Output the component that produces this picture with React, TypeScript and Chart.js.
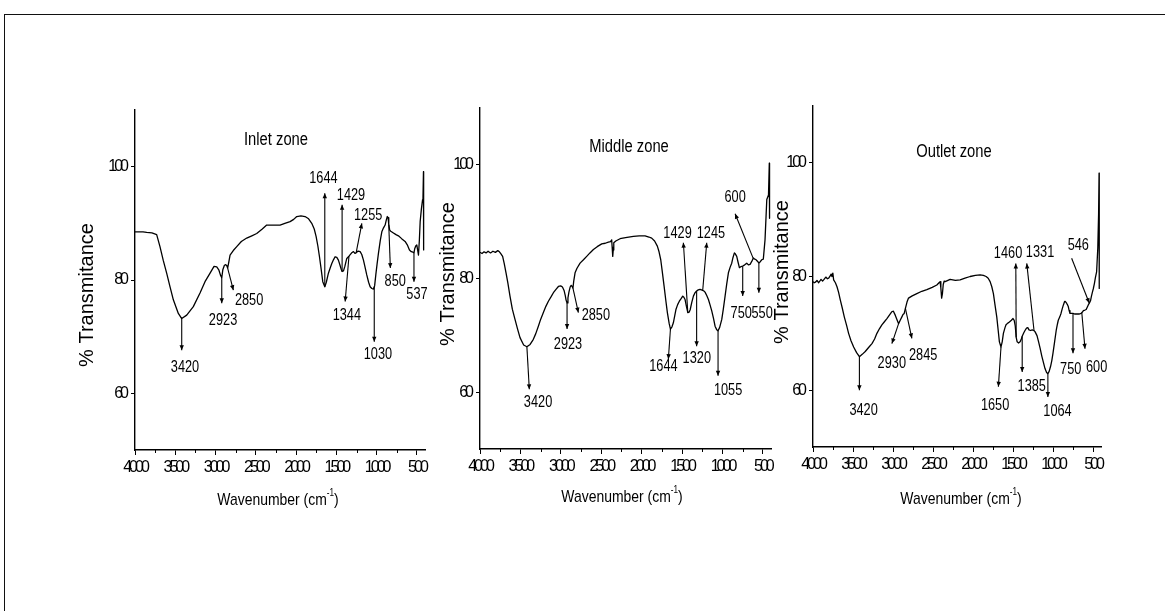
import React, { useEffect, useRef } from 'react';
import { Chart, registerables } from 'chart.js';

Chart.register(...registerables);

const PAGE_W = 1165;
const PAGE_H = 611;

// Shared axes
const X_TICKS = [4000, 3500, 3000, 2500, 2000, 1500, 1000, 500];
const X_MINOR_TICKS = [3750, 3250, 2750, 2250, 1750, 1250, 750];
const Y_TICKS = [60, 80, 100];
const X_MIN = 400;
const X_MAX = 4000;
const Y_MIN = 50;
const Y_MAX = 110;

// Inlet zone spectrum (wavenumber in cm-1, % transmittance)
const INLET_WAVENUMBER = [
  4000, 3900, 3855, 3790, 3731, 3690, 3650, 3607, 3565, 3524, 3462, 3420, 3358, 3276, 3193, 3131,
  3068, 3019, 2985, 2960, 2940, 2923, 2910, 2890, 2874, 2860, 2850, 2835, 2820, 2780, 2737, 2680,
  2613, 2550, 2489, 2420, 2365, 2280, 2199, 2140, 2075, 2030, 1992, 1940, 1889, 1845, 1806, 1775,
  1752, 1730, 1710, 1690, 1669, 1644, 1625, 1599, 1575, 1557, 1535, 1516, 1495, 1475, 1455, 1440,
  1429, 1412, 1395, 1371, 1344, 1310, 1288, 1270, 1255, 1230, 1205, 1185, 1164, 1145, 1123, 1100,
  1081, 1060, 1040, 1025, 1010, 995, 978, 955, 936, 915, 895, 880, 868, 858, 850, 838,
  825, 792, 760, 730, 690, 647, 620, 593, 570, 550, 537, 528, 515, 502, 490, 481,
  470, 460, 445, 430, 425, 419, 417,
];
const INLET_TRANSMITTANCE = [
  88.5, 88.5, 88.4, 88.3, 88.0, 85.9, 83.5, 81.2, 78.8, 76.5, 74.1, 73.2, 73.8, 75.3, 77.7, 79.7,
  81.2, 82.4, 82.3, 81.8, 80.9, 80.4, 81.8, 82.6, 82.7, 82.5, 82.1, 83.2, 84.4, 85.2, 85.9, 86.8,
  87.4, 87.8, 88.2, 89.0, 89.7, 89.7, 89.7, 90.0, 90.3, 90.7, 91.2, 91.3, 91.2, 90.8, 90.0, 89.0,
  87.7, 86.0, 84.1, 82.0, 79.7, 78.8, 79.6, 81.2, 82.2, 82.9, 83.6, 84.1, 84.0, 83.5, 82.6, 81.9,
  81.5, 81.6, 82.4, 83.8, 84.2, 84.8, 85.0, 84.7, 84.8, 85.1, 85.0, 84.5, 83.5, 82.3, 80.9, 79.6,
  78.8, 78.5, 78.4, 79.0, 81.0, 82.8, 84.7, 87.0, 88.5, 89.2, 89.7, 90.6, 91.2, 91.0, 89.8, 88.8,
  88.6, 88.3, 88.0, 87.8, 87.3, 86.8, 86.2, 85.3, 85.0, 84.9, 84.8, 85.5, 86.0, 86.2, 85.2, 84.4,
  87.0, 90.3, 92.5, 94.2, 94.5, 99.1, 85.3,
];
const INLET_PEAKS = [3420, 2923, 2850, 1644, 1429, 1255, 1344, 1030, 850, 537];

// Middle zone spectrum
const MIDDLE_WAVENUMBER = [
  4000, 3975, 3950, 3925, 3900, 3870, 3840, 3810, 3780, 3760, 3745, 3720, 3700, 3678, 3655, 3629,
  3600, 3567, 3535, 3505, 3460, 3420, 3380, 3340, 3310, 3278, 3250, 3216, 3185, 3154, 3120, 3092,
  3060, 3030, 3002, 2980, 2960, 2945, 2935, 2923, 2912, 2900, 2885, 2872, 2860, 2850, 2840, 2824,
  2800, 2762, 2720, 2680, 2640, 2597, 2550, 2494, 2450, 2412, 2385, 2371, 2365, 2358, 2352, 2345,
  2320, 2267, 2200, 2102, 2030, 1958, 1910, 1876, 1840, 1806, 1785, 1764, 1745, 1723, 1700, 1682,
  1660, 1644, 1625, 1608, 1590, 1575, 1555, 1534, 1510, 1492, 1478, 1463, 1445, 1429, 1412, 1400,
  1380, 1360, 1340, 1320, 1300, 1278, 1260, 1245, 1230, 1216, 1195, 1174, 1155, 1133, 1110, 1092,
  1072, 1055, 1035, 1009, 990, 968, 948, 927, 905, 886, 870, 853, 840, 824, 808, 791,
  770, 750, 725, 700, 680, 659, 638, 618, 600, 585, 565, 550, 530, 514, 495, 474,
  452, 431, 421, 418,
];
const MIDDLE_TRANSMITTANCE = [
  84.6, 84.4, 84.7, 84.5, 84.8, 84.5, 84.8, 84.6, 84.9, 84.7, 84.4, 83.9, 82.6, 81.0, 79.2, 76.9,
  74.6, 72.8, 71.1, 69.6, 68.3, 68.0, 68.4, 69.3, 70.3, 71.6, 72.8, 74.0, 75.1, 76.0, 76.8, 77.5,
  78.1, 78.6, 78.7, 78.5, 77.9, 77.0, 76.2, 75.7, 76.6, 77.6, 78.5, 78.8, 78.6, 78.3, 79.6, 81.0,
  81.8, 82.7, 83.3, 83.9, 84.5, 85.1, 85.6, 86.1, 86.2, 86.4, 86.5, 86.8, 85.5, 83.9, 85.0, 86.3,
  86.6, 87.0, 87.2, 87.4, 87.5, 87.5, 87.3, 87.1, 86.6, 85.7, 84.7, 83.3, 81.2, 78.7, 76.0, 74.0,
  72.1, 71.1, 71.5, 72.2, 73.5, 74.6, 75.4, 76.0, 76.5, 76.9, 76.7, 76.3, 75.0, 74.0, 74.1, 74.5,
  75.8, 76.9, 77.5, 77.8, 78.0, 78.1, 78.0, 77.9, 77.8, 77.6, 77.0, 76.3, 75.4, 74.3, 72.9, 71.6,
  71.0, 70.8, 71.4, 72.8, 74.6, 76.9, 79.0, 81.0, 82.0, 82.7, 83.7, 84.5, 84.3, 83.9, 82.9, 81.9,
  82.1, 82.2, 82.4, 82.7, 82.4, 82.5, 83.0, 83.6, 83.4, 83.3, 83.0, 82.7, 83.0, 83.3, 83.4, 86.8,
  93.9, 94.7, 100.3, 90.6,
];
const MIDDLE_PEAKS = [3420, 2923, 2850, 1644, 1429, 1245, 1320, 1055, 600, 750, 550];

// Outlet zone spectrum
const OUTLET_WAVENUMBER = [
  4000, 3985, 3970, 3950, 3929, 3900, 3880, 3867, 3840, 3820, 3804, 3785, 3775, 3763, 3752, 3742,
  3720, 3700, 3680, 3659, 3635, 3609, 3580, 3555, 3525, 3492, 3455, 3420, 3385, 3347, 3305, 3263,
  3230, 3201, 3170, 3139, 3110, 3076, 3045, 3014, 2995, 2972, 2950, 2930, 2910, 2889, 2875, 2860,
  2845, 2825, 2806, 2760, 2702, 2640, 2577, 2510, 2452, 2425, 2411, 2402, 2392, 2382, 2372, 2360,
  2348, 2286, 2220, 2161, 2100, 2036, 1970, 1911, 1870, 1836, 1810, 1786, 1765, 1745, 1725, 1703,
  1685, 1670, 1650, 1635, 1620, 1600, 1587, 1565, 1545, 1520, 1500, 1485, 1472, 1460, 1448, 1430,
  1412, 1398, 1385, 1365, 1350, 1331, 1315, 1300, 1280, 1260, 1240, 1225, 1200, 1180, 1160, 1140,
  1120, 1100, 1080, 1064, 1048, 1030, 1015, 1000, 980, 960, 945, 934, 915, 900, 885, 870,
  855, 845, 830, 818, 809, 798, 788, 770, 750, 725, 700, 675, 650, 635, 620, 600,
  585, 575, 559, 546, 530, 520, 508, 497, 482, 470, 455, 440, 430, 424, 422,
];
const OUTLET_TRANSMITTANCE = [
  79.1, 78.9, 79.0, 79.3, 78.9, 79.5, 79.2, 79.4, 79.9, 79.6, 79.7, 80.1, 80.4, 80.0, 80.6, 79.4,
  78.9, 78.2, 77.2, 75.9, 74.5, 72.9, 71.4, 70.0, 68.7, 67.6, 66.6, 65.9, 66.3, 66.8, 67.5, 68.2,
  69.0, 70.0, 70.8, 71.5, 72.0, 72.6, 73.2, 73.8, 73.9, 73.2, 72.4, 71.7, 72.3, 72.9, 73.3, 73.5,
  74.4, 75.5, 76.2, 76.6, 77.0, 77.4, 77.7, 78.1, 78.5, 78.9, 79.1, 78.0, 76.2, 77.0, 78.6, 79.2,
  79.1, 79.5, 79.3, 79.4, 79.7, 80.0, 80.2, 80.3, 80.2, 80.0, 79.7, 79.1, 78.2, 77.0, 75.0, 72.9,
  70.5, 68.5, 67.6, 68.5, 70.0, 71.0, 71.5, 71.8, 72.0, 72.3, 72.6, 72.3, 71.3, 69.3, 68.5, 68.3,
  68.5, 68.9, 69.5, 70.1, 70.5, 70.9, 71.0, 70.6, 70.5, 70.6, 70.5, 70.3, 69.6, 68.5, 67.3, 66.0,
  64.9, 63.8, 63.1, 62.9, 63.3, 64.2, 65.2, 66.5, 68.5, 70.5, 71.6, 72.3, 72.9, 73.5, 74.3, 75.0,
  75.6, 75.6, 75.3, 75.0, 74.7, 74.0, 73.5, 73.5, 73.5, 73.4, 73.4, 73.4, 73.5, 73.7, 74.0, 74.1,
  74.2, 74.5, 75.0, 75.3, 75.8, 76.5, 77.2, 77.8, 78.8, 79.8, 80.8, 85.0, 91.0, 98.2, 77.9,
];
const OUTLET_PEAKS = [3420, 2930, 2845, 1650, 1460, 1331, 1385, 1064, 750, 600, 546];

// Callout geometry for each peak label, in axis units (wavenumber, %T):
// `at` is where the leader meets the spectrum, `end` the other end of the leader,
// `text` the centre of the label. The arrow head sits on `end` unless headOnCurve.
type Callout = { at: number; end: [number, number]; text: [number, number]; headOnCurve?: boolean };

const INLET_CALLOUTS: Callout[] = [
  { at: 3420, end: [3420, 67.6], text: [3379, 64.6] },
  { at: 2923, end: [2923, 75.9], text: [2907, 72.9] },
  { at: 2850, end: [2779, 78.2], text: [2584, 76.5] },
  { at: 1644, end: [1644, 95.3], text: [1661, 97.9] },
  { at: 1429, end: [1429, 93.3], text: [1319, 94.9] },
  { at: 1255, end: [1184, 90.0], text: [1106, 91.5] },
  { at: 1344, end: [1391, 76.2], text: [1370, 73.8] },
  { at: 1030, end: [1030, 69.1], text: [985, 66.8] },
  { at: 850, end: [830, 82.1], text: [770, 79.7] },
  { at: 537, end: [537, 79.7], text: [500, 77.4] },
];

const MIDDLE_CALLOUTS: Callout[] = [
  { at: 3420, end: [3390, 60.5], text: [3282, 58.2] },
  { at: 2923, end: [2923, 71.1], text: [2911, 68.4] },
  { at: 2850, end: [2783, 74.0], text: [2567, 73.5] },
  { at: 1644, end: [1670, 65.8], text: [1731, 64.6] },
  { at: 1429, end: [1484, 86.3], text: [1556, 88.0] },
  { at: 1245, end: [1195, 86.3], text: [1143, 88.0] },
  { at: 1320, end: [1320, 68.1], text: [1318, 65.9] },
  { at: 1055, end: [1055, 62.9], text: [931, 60.4] },
  { at: 620, end: [844, 91.4], text: [844, 94.3] },
  { at: 750, end: [750, 76.9], text: [768, 73.8] },
  { at: 550, end: [550, 77.5], text: [510, 73.8] },
];

const OUTLET_CALLOUTS: Callout[] = [
  { at: 3420, end: [3420, 60.0], text: [3368, 56.5] },
  { at: 2930, end: [3014, 68.2], text: [3015, 64.7] },
  { at: 2845, end: [2764, 69.1], text: [2623, 66.1] },
  { at: 1650, end: [1683, 60.6], text: [1724, 57.4] },
  { at: 1460, end: [1465, 82.3], text: [1562, 84.0] },
  { at: 1237, end: [1328, 82.3], text: [1162, 84.2] },
  { at: 1385, end: [1385, 63.2], text: [1266, 60.6] },
  { at: 1064, end: [1064, 58.8], text: [944, 56.2] },
  { at: 750, end: [750, 66.5], text: [778, 63.7] },
  { at: 640, end: [600, 67.3], text: [455, 64.1] },
  { at: 546, end: [767, 83.2], text: [684, 85.5], headOnCurve: true },
];

const SANS = "'Liberation Sans', Arial, sans-serif";

type Panel = {
  key: string;
  title: string;
  wavenumber: number[];
  transmittance: number[];
  peaks: number[];
  callouts: Callout[];
  area: { left: number; right: number; top: number; bottom: number };
  titleAt: [number, number];
  xTitleAt: [number, number];
  yTitleAt: [number, number];
};

const PANELS: Panel[] = [
  {
    key: 'inlet',
    title: 'Inlet zone',
    wavenumber: INLET_WAVENUMBER,
    transmittance: INLET_TRANSMITTANCE,
    peaks: INLET_PEAKS,
    callouts: INLET_CALLOUTS,
    area: { left: 135, right: 425, top: 110, bottom: 450 },
    titleAt: [276, 140],
    xTitleAt: [278, 500],
    yTitleAt: [87, 295],
  },
  {
    key: 'middle',
    title: 'Middle zone',
    wavenumber: MIDDLE_WAVENUMBER,
    transmittance: MIDDLE_TRANSMITTANCE,
    peaks: MIDDLE_PEAKS,
    callouts: MIDDLE_CALLOUTS,
    area: { left: 480, right: 771, top: 108, bottom: 449 },
    titleAt: [629, 147],
    xTitleAt: [622, 497],
    yTitleAt: [448, 274],
  },
  {
    key: 'outlet',
    title: 'Outlet zone',
    wavenumber: OUTLET_WAVENUMBER,
    transmittance: OUTLET_TRANSMITTANCE,
    peaks: OUTLET_PEAKS,
    callouts: OUTLET_CALLOUTS,
    area: { left: 813, right: 1101, top: 106, bottom: 447 },
    titleAt: [954, 152],
    xTitleAt: [961, 499],
    yTitleAt: [782, 272],
  },
];

const Y_SCALE_WIDTH = 40;
const X_SCALE_HEIGHT = 30;

function valueAt(wn: number[], t: number[], w: number): number {
  for (let i = 0; i < wn.length - 1; i++) {
    const a = wn[i];
    const b = wn[i + 1];
    if (w <= a && w >= b) {
      const f = a === b ? 0 : (a - w) / (a - b);
      return t[i] + f * (t[i + 1] - t[i]);
    }
  }
  return t[t.length - 1];
}

// Text squeezed horizontally, centred on (x, y)
function fillCondensed(ctx: CanvasRenderingContext2D, text: string, x: number, y: number, sx: number) {
  ctx.save();
  ctx.translate(x, y);
  ctx.scale(sx, 1);
  ctx.textAlign = 'center';
  ctx.textBaseline = 'middle';
  ctx.fillText(text, 0, 0);
  ctx.restore();
}

function drawArrow(ctx: CanvasRenderingContext2D, x0: number, y0: number, x1: number, y1: number, headAtStart: boolean) {
  ctx.beginPath();
  ctx.moveTo(x0, y0);
  ctx.lineTo(x1, y1);
  ctx.stroke();
  const hx = headAtStart ? x0 : x1;
  const hy = headAtStart ? y0 : y1;
  const fx = headAtStart ? x1 : x0;
  const fy = headAtStart ? y1 : y0;
  const ang = Math.atan2(hy - fy, hx - fx);
  const len = 5;
  const half = 2.2;
  const bx = hx - len * Math.cos(ang);
  const by = hy - len * Math.sin(ang);
  ctx.beginPath();
  ctx.moveTo(hx, hy);
  ctx.lineTo(bx + half * Math.sin(ang), by - half * Math.cos(ang));
  ctx.lineTo(bx - half * Math.sin(ang), by + half * Math.cos(ang));
  ctx.closePath();
  ctx.fill();
}

function decorPlugin(p: Panel) {
  return {
    id: 'decor_' + p.key,
    beforeDraw(chart: any) {
      // tight spacing for the condensed tick numerals
      chart.ctx.letterSpacing = '-3px';
    },
    afterDraw(chart: any) {
      const ctx: CanvasRenderingContext2D = chart.ctx;
      const xs = chart.scales.x;
      const ys = chart.scales.y;
      const area = chart.chartArea;
      ctx.save();
      ctx.letterSpacing = '0px';
      ctx.strokeStyle = '#000';
      ctx.fillStyle = '#000';

      // minor ticks on the wavenumber axis
      ctx.lineWidth = 1;
      for (const v of X_MINOR_TICKS) {
        const x = Math.round(xs.getPixelForValue(v)) + 0.5;
        ctx.beginPath();
        ctx.moveTo(x, area.bottom);
        ctx.lineTo(x, area.bottom + 3);
        ctx.stroke();
      }

      // peak callouts
      ctx.lineWidth = 1.1;
      ctx.font = `17px ${SANS}`;
      p.callouts.forEach((c, i) => {
        const x0 = xs.getPixelForValue(c.at);
        const y0 = ys.getPixelForValue(valueAt(p.wavenumber, p.transmittance, c.at));
        const x1 = xs.getPixelForValue(c.end[0]);
        const y1 = ys.getPixelForValue(c.end[1]);
        drawArrow(ctx, x0, y0, x1, y1, !!c.headOnCurve);
        fillCondensed(ctx, String(p.peaks[i]), xs.getPixelForValue(c.text[0]), ys.getPixelForValue(c.text[1]), 0.75);
      });

      // panel title
      ctx.font = `18px ${SANS}`;
      fillCondensed(ctx, p.title, p.titleAt[0], p.titleAt[1], 0.82);

      // x axis title with superscript
      const mainFont = `17px ${SANS}`;
      const supFont = `10px ${SANS}`;
      const partA = 'Wavenumber (cm';
      const partB = '-1';
      const partC = ')';
      ctx.font = mainFont;
      const wA = ctx.measureText(partA).width;
      const wC = ctx.measureText(partC).width;
      ctx.font = supFont;
      const wB = ctx.measureText(partB).width;
      const total = wA + wB + wC;
      ctx.save();
      ctx.translate(p.xTitleAt[0], p.xTitleAt[1]);
      ctx.scale(0.82, 1);
      ctx.textAlign = 'left';
      ctx.textBaseline = 'middle';
      let x = -total / 2;
      ctx.font = mainFont;
      ctx.fillText(partA, x, 0);
      x += wA;
      ctx.font = supFont;
      ctx.fillText(partB, x, -7);
      x += wB;
      ctx.font = mainFont;
      ctx.fillText(partC, x, 0);
      ctx.restore();

      // y axis title
      ctx.save();
      ctx.translate(p.yTitleAt[0], p.yTitleAt[1]);
      ctx.rotate(-Math.PI / 2);
      ctx.textAlign = 'center';
      ctx.textBaseline = 'middle';
      ctx.font = `20px ${SANS}`;
      ctx.fillText('% Transmitance', 0, 0);
      ctx.restore();

      ctx.restore();
    },
  };
}

function makeConfig(p: Panel): any {
  const tickFont = { family: SANS, size: 16, lineHeight: 1.2 };
  return {
    type: 'line',
    data: {
      datasets: [
        {
          data: p.wavenumber.map((w, i) => ({ x: w, y: p.transmittance[i] })),
          borderColor: '#000',
          borderWidth: 1.3,
          borderJoinStyle: 'round',
          pointRadius: 0,
          tension: 0,
          fill: false,
        },
      ],
    },
    options: {
      animation: false,
      responsive: false,
      maintainAspectRatio: false,
      devicePixelRatio: 1,
      events: [],
      layout: {
        padding: {
          left: p.area.left - Y_SCALE_WIDTH,
          right: PAGE_W - p.area.right,
          top: p.area.top,
          bottom: PAGE_H - p.area.bottom - X_SCALE_HEIGHT,
        },
      },
      plugins: {
        legend: { display: false },
        tooltip: { enabled: false },
        title: { display: false },
      },
      scales: {
        x: {
          type: 'linear',
          reverse: true,
          min: X_MIN,
          max: X_MAX,
          afterBuildTicks: (s: any) => {
            s.ticks = X_TICKS.map((v) => ({ value: v }));
          },
          afterFit: (s: any) => {
            s.height = X_SCALE_HEIGHT;
          },
          ticks: {
            font: tickFont,
            color: '#000',
            padding: 3,
            maxRotation: 0,
            autoSkip: false,
            callback: (v: number) => String(v),
          },
          grid: {
            display: true,
            drawOnChartArea: false,
            drawTicks: true,
            tickLength: 5,
            color: '#000',
            lineWidth: 1,
          },
          border: { display: true, color: '#000', width: 1.4 },
        },
        y: {
          type: 'linear',
          min: Y_MIN,
          max: Y_MAX,
          afterBuildTicks: (s: any) => {
            s.ticks = Y_TICKS.map((v) => ({ value: v }));
          },
          afterFit: (s: any) => {
            s.width = Y_SCALE_WIDTH;
          },
          ticks: {
            font: tickFont,
            color: '#000',
            padding: 5,
            autoSkip: false,
            callback: (v: number) => String(v),
          },
          grid: {
            display: true,
            drawOnChartArea: false,
            drawTicks: true,
            tickLength: 4,
            color: '#000',
            lineWidth: 1,
          },
          border: { display: true, color: '#000', width: 1.4 },
        },
      },
    },
    plugins: [decorPlugin(p)],
  };
}

export default function App() {
  const ref0 = useRef<HTMLCanvasElement | null>(null);
  const ref1 = useRef<HTMLCanvasElement | null>(null);
  const ref2 = useRef<HTMLCanvasElement | null>(null);
  const refs = [ref0, ref1, ref2];

  useEffect(() => {
    const charts = PANELS.map((p, i) => new Chart(refs[i].current as HTMLCanvasElement, makeConfig(p)));
    return () => charts.forEach((c) => c.destroy());
  }, []);

  return (
    <div
      style={{
        position: 'absolute',
        left: 0,
        top: 0,
        width: PAGE_W,
        height: PAGE_H,
        background: '#fff',
        overflow: 'hidden',
      }}
    >
      <div
        style={{
          position: 'absolute',
          left: 4,
          top: 14,
          right: 0,
          bottom: 0,
          borderTop: '1.5px solid #111',
          borderLeft: '1.5px solid #111',
        }}
      />
      {PANELS.map((p, i) => (
        <canvas
          key={p.key}
          ref={refs[i]}
          width={PAGE_W}
          height={PAGE_H}
          style={{ position: 'absolute', left: 0, top: 0 }}
        />
      ))}
    </div>
  );
}
